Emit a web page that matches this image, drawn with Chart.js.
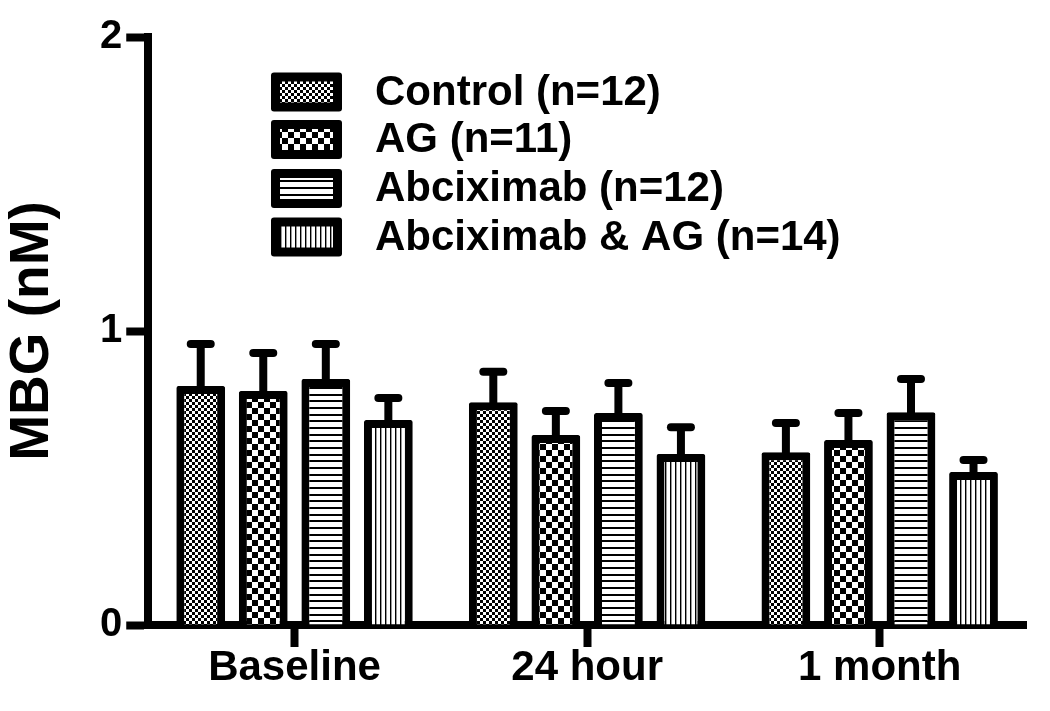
<!DOCTYPE html>
<html><head><meta charset="utf-8">
<script src="https://cdn.jsdelivr.net/npm/chart.js@4.4.1/dist/chart.umd.min.js"></script>
<style>html,body{margin:0;padding:0;background:#fff;}</style>
</head><body>
<canvas id="c" width="1050" height="711" style="display:block;width:1050px;height:711px"></canvas>
<script>
const categories = ['Baseline', '24 hour', '1 month'];
const seriesNames = ['Control (n=12)', 'AG (n=11)', 'Abciximab (n=12)', 'Abciximab & AG (n=14)'];
const controlMean = [0.813, 0.758, 0.588];
const agMean      = [0.796, 0.646, 0.629];
const abcMean     = [0.837, 0.721, 0.724];
const abcAgMean   = [0.697, 0.582, 0.520];
const controlSem  = [0.143, 0.103, 0.099];
const agSem       = [0.129, 0.082, 0.092];
const abcSem      = [0.119, 0.102, 0.113];
const abcAgSem    = [0.075, 0.091, 0.041];
const yTicks = [0, 1, 2];

const canvas = document.getElementById('c');
const ctx = canvas.getContext('2d');
const FONT = "'Liberation Sans', Arial, sans-serif";

function makePattern(w, h, draw) {
  const c = document.createElement('canvas');
  c.width = w; c.height = h;
  const g = c.getContext('2d');
  g.fillStyle = '#fff'; g.fillRect(0, 0, w, h);
  g.fillStyle = '#000';
  draw(g);
  return ctx.createPattern(c, 'repeat');
}
const patFineChecker = makePattern(6, 6, g => { g.fillRect(0, 0, 3, 3); g.fillRect(3, 3, 3, 3); });
const patCoarseChecker = makePattern(12, 12, g => { g.fillRect(0, 0, 6, 6); g.fillRect(6, 6, 6, 6); });
const patHoriz = makePattern(20, 20, g => { g.fillRect(0, 0, 20, 2); g.fillRect(0, 7, 20, 2); g.fillRect(0, 14, 20, 2); });
const patVert = makePattern(5, 5, g => { g.fillRect(0, 0, 1, 5); g.fillStyle = '#999'; g.fillRect(1, 0, 1, 5); });

const means = [controlMean, agMean, abcMean, abcAgMean];
const sems = [controlSem, agSem, abcSem, abcAgSem];
const fills = [patFineChecker, patCoarseChecker, patHoriz, patVert];

const datasets = seriesNames.map((name, i) => ({
  label: name,
  data: means[i],
  sem: sems[i],
  backgroundColor: fills[i],
  borderColor: '#000',
  borderWidth: 8,
  borderRadius: 2,
  borderSkipped: 'start',
  categoryPercentage: 0.855,
  barPercentage: 0.78
}));

const errorBars = {
  id: 'errorBars',
  afterDatasetsDraw(chart) {
    const c = chart.ctx, ys = chart.scales.y;
    c.save();
    c.strokeStyle = '#000';
    c.lineWidth = 8;
    chart.data.datasets.forEach((ds, di) => {
      const meta = chart.getDatasetMeta(di);
      meta.data.forEach((el, i) => {
        const top = ys.getPixelForValue(ds.data[i] + ds.sem[i]);
        c.lineCap = 'butt';
        c.beginPath(); c.moveTo(el.x, el.y + 2); c.lineTo(el.x, top); c.stroke();
        c.lineCap = 'round';
        c.beginPath(); c.moveTo(el.x - 10, top); c.lineTo(el.x + 10, top); c.stroke();
      });
    });
    c.restore();
  }
};

const customLegend = {
  id: 'customLegend',
  afterDraw(chart) {
    const c = chart.ctx;
    const x0 = 271, bw = 71, bh = 39, bord = 9, textX = 375;
    const centers = [92, 139.5, 188.5, 237];
    c.save();
    chart.data.datasets.forEach((ds, i) => {
      const cy = centers[i];
      const y0 = cy - bh / 2;
      c.fillStyle = '#000';
      c.beginPath();
      if (c.roundRect) c.roundRect(x0, y0, bw, bh, 3); else c.rect(x0, y0, bw, bh);
      c.fill();
      c.fillStyle = ds.backgroundColor;
      c.fillRect(x0 + bord, y0 + bord, bw - 2 * bord, bh - 2 * bord);
      c.fillStyle = '#000';
      c.font = 'bold 42px ' + FONT;
      c.textAlign = 'left';
      c.textBaseline = 'middle';
      c.fillText(ds.label, textX, cy + 1);
    });
    c.restore();
  }
};

new Chart(ctx, {
  type: 'bar',
  data: { labels: categories, datasets },
  options: {
    responsive: false,
    animation: false,
    devicePixelRatio: 1,
    layout: { padding: { left: 5, right: 24, top: 37, bottom: 22 } },
    plugins: { legend: { display: false }, tooltip: { enabled: false } },
    scales: {
      x: {
        offset: true,
        grid: { display: true, drawOnChartArea: false, offset: false, tickLength: 22, tickWidth: 8, tickColor: '#000', color: '#000' },
        border: { display: true, width: 8, color: '#000' },
        ticks: { color: '#000', padding: 0, font: { family: FONT, size: 42, weight: 'bold', lineHeight: 1 } }
      },
      y: {
        min: 0, max: 2,
        afterBuildTicks: s => { s.ticks = yTicks.map(v => ({ value: v })); },
        grid: { display: true, drawOnChartArea: false, tickLength: 22, tickWidth: 8, tickColor: '#000', color: '#000' },
        border: { display: true, width: 8, color: '#000' },
        ticks: { color: '#000', padding: 4, font: { family: FONT, size: 40, weight: 'bold', lineHeight: 1 } },
        title: { display: true, text: 'MBG (nM)', color: '#000', padding: { top: 0, bottom: 36 }, font: { family: FONT, size: 55, weight: 'bold', lineHeight: 1 } }
      }
    }
  },
  plugins: [errorBars, customLegend]
});
</script>
</body></html>
